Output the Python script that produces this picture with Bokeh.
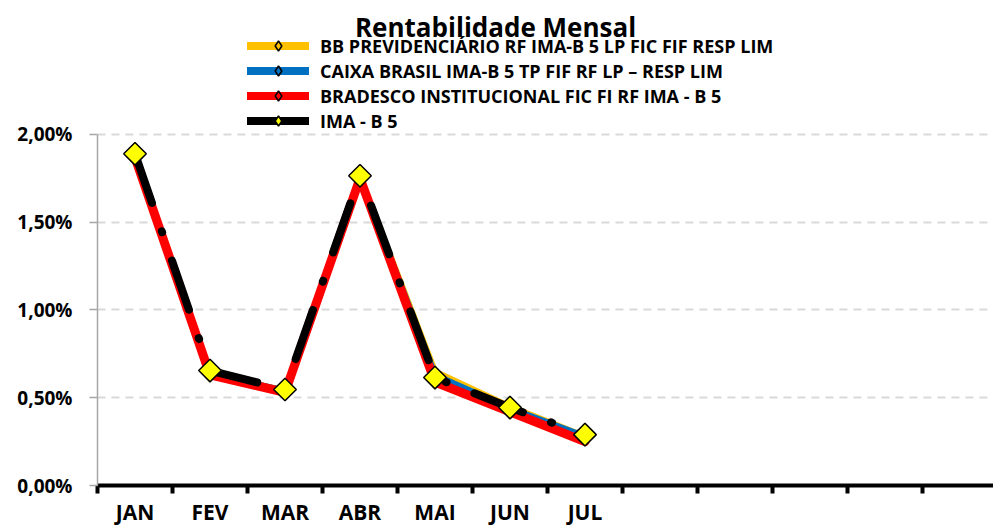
import numpy as np
from bokeh.plotting import figure
from bokeh.models import (Range1d, FixedTicker, CustomJSTickFormatter, Legend,
                          LegendItem, Label)
from bokeh.embed import file_html
from bokeh.resources import INLINE

# ---------------- data ----------------
chart_title = "Rentabilidade Mensal"
months = ["JAN", "FEV", "MAR", "ABR", "MAI", "JUN", "JUL"]
n_slots = 12  # category slots on the x axis (JAN..DEZ)

series_names = [
    "BB PREVIDENCIÁRIO RF IMA-B 5 LP FIC FIF RESP LIM",
    "CAIXA BRASIL IMA-B 5 TP FIF RF LP – RESP LIM",
    "BRADESCO INSTITUCIONAL FIC FI RF IMA - B 5",
    "IMA - B 5",
]
bb = [1.88, 0.64, 0.54, 1.76, 0.65, 0.45, 0.28]
caixa = [1.88, 0.64, 0.54, 1.76, 0.63, 0.44, 0.28]
bradesco = [1.87, 0.63, 0.53, 1.75, 0.59, 0.42, 0.25]
ima_b5 = [1.89, 0.655, 0.547, 1.765, 0.615, 0.444, 0.29]
y_ticks = [0.0, 0.5, 1.0, 1.5, 2.0]

colors = ["#FFC000", "#0070C0", "#FF0000", "#000000"]
FONT = "Open Sans"

# ---------------- figure ----------------
W, H = 993, 529
p = figure(width=W, height=H, output_backend="svg", toolbar_location=None,
           title=None,
           x_range=Range1d(-0.5, 11.447), y_range=Range1d(0, 2.7635),
           min_border_left=97, min_border_right=0, min_border_top=0,
           min_border_bottom=44)
p.outline_line_color = None
p.background_fill_color = "white"
p.border_fill_color = "white"

x = list(range(len(months)))

# lines
for vals, col, w in [(bb, colors[0], 6), (caixa, colors[1], 6), (bradesco, colors[2], 9)]:
    p.line(x, vals, line_color=col, line_width=w, line_join="round", line_cap="round")

p.line(x, ima_b5, line_color="black", line_width=8, line_dash="52 30 1 30",
       line_cap="round", line_join="round")
p.scatter(x, ima_b5, marker="square", angle=np.pi / 4, size=16,
          fill_color="#FFFF00", line_color="black", line_width=1.5)

# legend proxies (one NaN point each, so nothing is drawn in the plot area)
marker_fills = [colors[0], colors[1], colors[2], "#FFFF00"]
nan_x = np.array([0.0])
nan_y = np.array([np.nan])
items = []
for name, col, mf in zip(series_names, colors, marker_fills):
    lr = p.line(nan_x, nan_y, line_color=col, line_width=8, line_cap="round")
    sr = p.scatter(nan_x, nan_y, marker="diamond", size=7,
                   fill_color=mf, line_color="black", line_width=1.5)
    items.append(LegendItem(label=name, renderers=[lr, sr]))

legend = Legend(items=items, location=(150, 352), glyph_width=62, glyph_height=25,
                label_height=25, spacing=0, padding=0, margin=0, label_standoff=11,
                border_line_color=None, background_fill_alpha=0,
                label_text_font=FONT, label_text_font_style="bold",
                label_text_font_size="18px", label_text_color="black")
p.add_layout(legend)

# title
p.add_layout(Label(x=4.807, y=2.615, text=chart_title, text_align="center",
                   text_baseline="alphabetic", text_font=FONT, text_font_style="bold",
                   text_font_size="26px", text_color="black"))

# y axis
p.yaxis.ticker = FixedTicker(ticks=y_ticks)
p.yaxis.formatter = CustomJSTickFormatter(
    code="return tick.toFixed(2).replace('.', ',') + '%';")
p.yaxis.bounds = (0, 2)
p.yaxis.axis_line_color = "#A6A6A6"
p.yaxis.axis_line_width = 1.5
p.yaxis.major_tick_line_color = "#A6A6A6"
p.yaxis.major_tick_line_width = 1.5
p.yaxis.major_tick_out = 8
p.yaxis.major_tick_in = 0
p.yaxis.minor_tick_line_color = None
p.yaxis.major_label_standoff = 17
p.yaxis.major_label_text_font = FONT
p.yaxis.major_label_text_font_style = "bold"
p.yaxis.major_label_text_font_size = "19px"
p.yaxis.major_label_text_color = "black"

# grid
p.ygrid.ticker = FixedTicker(ticks=y_ticks)
p.ygrid.grid_line_color = "#D9D9D9"
p.ygrid.grid_line_width = 2
p.ygrid.grid_line_dash = "8 6"
p.xgrid.grid_line_color = None

# x axis
p.xaxis.ticker = FixedTicker(ticks=x,
                             minor_ticks=[i - 0.5 for i in range(n_slots + 1)])
p.xaxis.formatter = CustomJSTickFormatter(
    args=dict(labels=months),
    code="const i = Math.round(tick); return (i >= 0 && i < labels.length) ? labels[i] : '';")
p.xaxis.axis_line_color = "black"
p.xaxis.axis_line_width = 4
p.xaxis.major_tick_line_color = None
p.xaxis.major_tick_out = 0
p.xaxis.major_tick_in = 0
p.xaxis.minor_tick_line_color = "black"
p.xaxis.minor_tick_line_width = 4
p.xaxis.minor_tick_out = 8
p.xaxis.minor_tick_in = 0
p.xaxis.major_label_standoff = 4
p.xaxis.major_label_text_font = FONT
p.xaxis.major_label_text_font_style = "bold"
p.xaxis.major_label_text_font_size = "21px"
p.xaxis.major_label_text_color = "black"

open("out.html", "w").write(file_html(p, INLINE))
